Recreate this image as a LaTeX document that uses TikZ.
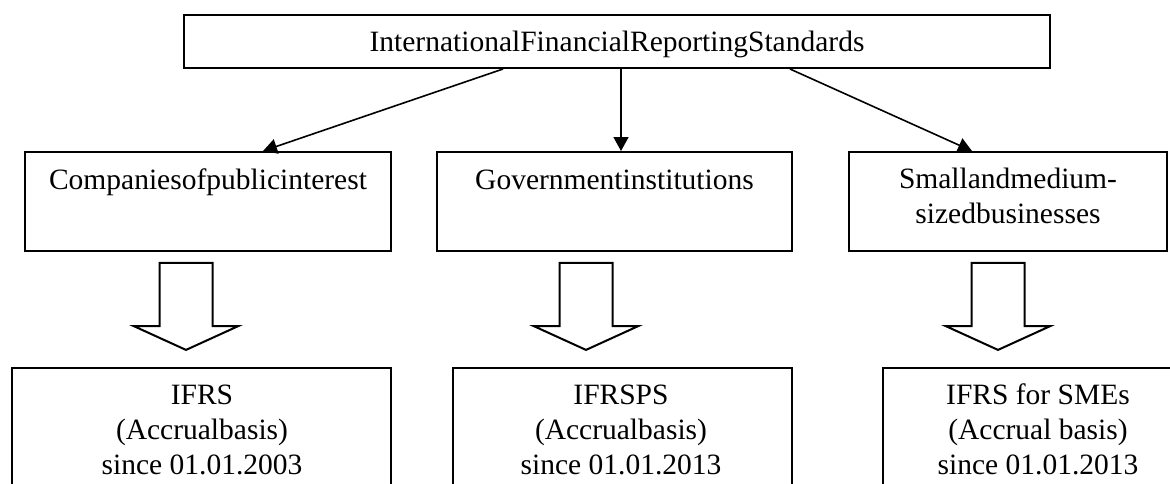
\documentclass[tikz,border=0pt]{standalone}
\usepackage{fontspec}
\setmainfont{Liberation Serif}
\usetikzlibrary{arrows.meta,shapes.arrows}

\begin{document}
\begin{tikzpicture}[
    x=1pt, y=-1pt,
    box/.style={rectangle, draw, line width=2pt, inner sep=0pt},
    txt/.style={inner sep=0pt, anchor=base, align=center, font=\fontsize{29.5}{35}\selectfont},
    arrow/.style={-{Triangle[length=14pt,width=15pt]}, line width=1.6pt},
    fat/.style={single arrow, draw, line width=2pt, shape border rotate=270, inner sep=25.5pt,
      minimum height=87pt, single arrow head extend=25.5pt, single arrow tip angle=131, anchor=tip}
  ]
  \useasboundingbox (0,0) rectangle (1170,483);
  \clip (0,0) rectangle (1170,483);

  % top level
  \node[box, minimum width=866pt, minimum height=53pt] (ifrs) at (617,41.5) {};
  \node[txt] (ifrstxt) at (617,51) {InternationalFinancialReportingStandards};

  % users (base = last line)
  \node[box, minimum width=366pt, minimum height=99pt] (pub) at (208,201.5) {};
  \node[box, minimum width=355pt, minimum height=99pt] (gov) at (614.5,201.5) {};
  \node[box, minimum width=318pt, minimum height=99pt] (sme) at (1008,201.5) {};
  \node[txt] (pubtxt) at (208,189) {Companiesofpublicinterest};
  \node[txt] (govtxt) at (614.5,189) {Governmentinstitutions};
  \node[txt] (smetxt) at (1008,223) {Smallandmedium-\\sizedbusinesses};

  % standards
  \node[box, minimum width=379pt, minimum height=142pt] (bpub) at (201.5,439) {};
  \node[box, minimum width=339pt, minimum height=142pt] (bgov) at (622.5,439) {};
  \node[box, minimum width=310pt, minimum height=142pt] (bsme) at (1038,439) {};
  \node[txt] (bpubtxt) at (202,474) {IFRS\\(Accrualbasis)\\since 01.01.2003};
  \node[txt] (bgovtxt) at (621,474) {IFRSPS\\(Accrualbasis)\\since 01.01.2013};
  \node[txt] (bsmetxt) at (1038,474) {IFRS for SMEs\\(Accrual basis)\\since 01.01.2013};

  \draw[arrow] ([xshift=-114pt]ifrs.south) -- ([xshift=55pt]pub.north);
  \draw[arrow] ([xshift=4pt]ifrs.south) -- ([xshift=6.5pt]gov.north);
  \draw[arrow] ([xshift=173pt]ifrs.south) -- ([xshift=-36pt]sme.north);

  \node[fat] (fpub) at (186,351) {};
  \node[fat] (fgov) at (586,351) {};
  \node[fat] (fsme) at (998,351) {};
\end{tikzpicture}
\end{document}
